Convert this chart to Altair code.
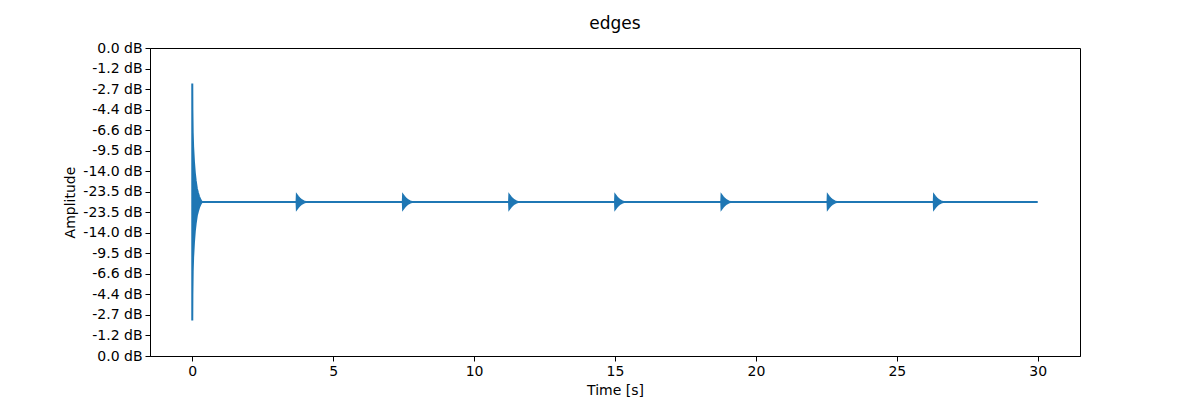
import altair as alt
import pandas as pd

# Envelope of the initial impulse (seconds, linear amplitude)
spike_t = [0.0, 0.004, 0.015, 0.03, 0.06, 0.09, 0.12, 0.16, 0.2, 0.24, 0.3, 0.34]
spike_amp = [0.77, 0.6, 0.45, 0.36, 0.26, 0.19, 0.14, 0.09, 0.06, 0.035, 0.01, 0.0]

# Small repeated edges (start times) and their envelope shape
blip_starts = [3.70, 7.47, 11.24, 15.0, 18.77, 22.54, 26.31]
blip_dt = [0.0, 0.01, 0.05, 0.1, 0.18, 0.26, 0.32]
blip_amp = [0.0, 0.045, 0.035, 0.025, 0.012, 0.004, 0.0]

end_time = 30.0

# y tick positions (linear amplitude) and their dB labels
y_ticks = [1.0, 0.8667, 0.7333, 0.6, 0.4667, 0.3333, 0.2, 0.0667,
           -0.0667, -0.2, -0.3333, -0.4667, -0.6, -0.7333, -0.8667, -1.0]
y_labels = ["0.0 dB", "-1.2 dB", "-2.7 dB", "-4.4 dB", "-6.6 dB", "-9.5 dB",
            "-14.0 dB", "-23.5 dB", "-23.5 dB", "-14.0 dB", "-9.5 dB",
            "-6.6 dB", "-4.4 dB", "-2.7 dB", "-1.2 dB", "0.0 dB"]
x_ticks = [0, 5, 10, 15, 20, 25, 30]

rows = []
for t, a in zip(spike_t, spike_amp):
    rows.append({"t": t, "hi": a, "lo": -a})
for s in blip_starts:
    for dt, a in zip(blip_dt, blip_amp):
        rows.append({"t": s + dt, "hi": a, "lo": -a})
rows.append({"t": end_time, "hi": 0.0, "lo": 0.0})
df = pd.DataFrame(rows).sort_values("t")

label_array = "[" + ",".join("'%s'" % l for l in y_labels) + "]"
label_expr = label_array + "[round((1 - datum.value) * 7.5)]"

color = "#1f77b4"
font = "DejaVu Sans"

chart = alt.Chart(df).mark_area(
    color=color, stroke=color, strokeWidth=2, fillOpacity=1, strokeJoin="miter"
).encode(
    x=alt.X("t:Q", scale=alt.Scale(domain=[-1.5, 31.5], nice=False, zero=False),
            axis=alt.Axis(title="Time [s]", values=x_ticks, format="d", grid=False,
                          labelFlush=False)),
    y=alt.Y("hi:Q", scale=alt.Scale(domain=[-1, 1], nice=False),
            axis=alt.Axis(title="Amplitude", values=y_ticks, labelExpr=label_expr,
                          grid=False)),
    y2="lo:Q",
).properties(
    width=930, height=308,
    title=alt.TitleParams("edges", fontSize=17, font=font, fontWeight="normal",
                          offset=8, color="black", frame="group"),
    autosize=alt.AutoSizeParams(type="none"),
    padding={"left": 142, "top": 40, "right": 100, "bottom": 44},
).configure_view(
    stroke="black", strokeWidth=1
).configure_axis(
    labelFont=font, titleFont=font, labelFontSize=14, titleFontSize=14,
    titleFontWeight="normal", labelColor="black", titleColor="black",
    domainColor="black", tickColor="black", tickSize=5, labelPadding=3,
    titlePadding=5,
)

chart.save("out.html", embed_options={"renderer": "svg", "actions": False})
